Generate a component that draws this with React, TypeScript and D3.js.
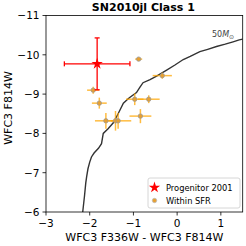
import React from "react";
import * as d3 from "d3";

const title = "SN2010jl Class 1";
const xTicks = [-3, -2, -1, 0, 1];
const yTicks = [-11, -10, -9, -8, -7, -6];

const progX = [-1.83];
const progY = [-9.77];
const progXErr = [0.75];
const progYErr = [0.66];

const sfrX = [-0.88, -1.92, -1.78, -0.97, -0.65, -0.84, -1.63, -1.41, -1.35, -0.34];
const sfrY = [-9.89, -9.1, -8.77, -8.87, -8.87, -8.44, -8.32, -8.32, -8.32, -9.47];
const sfrXErr = [0.08, 0.14, 0.17, 0.2, 0.25, 0.25, 0.25, 0.1, 0.3, 0.22];
const sfrYErr = [0.03, 0.09, 0.14, 0.15, 0.1, 0.18, 0.2, 0.25, 0.2, 0.08];

const trackX = [-2.16, -2.12, -2.09, -2.07, -2.04, -2.0, -1.96, -1.9, -1.8, -1.73, -1.69, -1.58, -1.46, -1.35, -1.23, -1.1, -0.93, -0.85, -0.78, -0.62, -0.47, -0.24, -0.05, 0.14, 0.3, 0.52, 0.7, 0.9, 1.1, 1.28, 1.42, 1.5];
const trackY = [-6.0, -6.4, -6.74, -6.9, -7.1, -7.27, -7.4, -7.5, -7.62, -7.74, -8.0, -8.12, -8.27, -8.5, -8.77, -8.9, -9.04, -9.18, -9.29, -9.37, -9.46, -9.61, -9.74, -9.88, -9.96, -10.08, -10.14, -10.21, -10.27, -10.33, -10.38, -10.4];

const W = 246, H = 246;
const L = 46, R = 242.7, T = 15.5, B = 212;

export default function App() {
  const x = d3.scaleLinear().domain([-3, 1.5]).range([L, R]);
  const y = d3.scaleLinear().domain([-11, -6]).range([T, B]);
  const line = d3.line<number>().x((d) => x(trackX[d])).y((d) => y(trackY[d]));
  const idx = trackX.map((_, i) => i);
  const font = "DejaVu Sans, sans-serif";
  const orange = "#ffa500";
  const starPath = d3.symbol(d3.symbolStar, 40)() as string;
  const starLeg = d3.symbol(d3.symbolStar, 40)() as string;
  return (
    <svg width={W} height={H} style={{ position: "absolute", left: 0, top: 0 }} fontFamily={font}>
      <rect width={W} height={H} fill="white" />
      <defs>
        <clipPath id="clip"><rect x={L} y={T} width={R - L} height={B - T} /></clipPath>
      </defs>
      <g clipPath="url(#clip)">
        <path d={line(idx) || ""} fill="none" stroke="#333" strokeWidth={1.4} />
      </g>
      {sfrX.map((v, i) => (
        <g key={"e" + i} stroke={orange} strokeOpacity={0.75} strokeWidth={1.5}>
          <line x1={x(v - sfrXErr[i])} x2={x(v + sfrXErr[i])} y1={y(sfrY[i])} y2={y(sfrY[i])} />
          <line x1={x(v)} x2={x(v)} y1={y(sfrY[i] - sfrYErr[i])} y2={y(sfrY[i] + sfrYErr[i])} />
        </g>
      ))}
      {sfrX.map((v, i) => (
        <circle key={"c" + i} cx={x(v)} cy={y(sfrY[i])} r={2.2} fill="#e8a030" stroke="#999" strokeWidth={0.8} />
      ))}
      {progX.map((v, i) => {
        const cx = x(v), cy = y(progY[i]);
        const x1 = x(v - progXErr[i]), x2 = x(v + progXErr[i]);
        const y1 = y(progY[i] - progYErr[i]), y2 = y(progY[i] + progYErr[i]);
        return (
          <g key={"p" + i} stroke="red" strokeWidth={1.3}>
            <line x1={x1} x2={x2} y1={cy} y2={cy} />
            <line x1={cx} x2={cx} y1={y1} y2={y2} />
            <line x1={x1} x2={x1} y1={cy - 2.5} y2={cy + 2.5} />
            <line x1={x2} x2={x2} y1={cy - 2.5} y2={cy + 2.5} />
            <line x1={cx - 2.5} x2={cx + 2.5} y1={y1} y2={y1} />
            <line x1={cx - 2.5} x2={cx + 2.5} y1={y2} y2={y2} />
            <path d={starPath} transform={`translate(${cx},${cy})`} fill="red" stroke="none" />
          </g>
        );
      })}
      <text x={212} y={37} fontSize={8} fill="#444">50<tspan fontStyle="italic">M</tspan><tspan fontSize={6} dy={2}>⊙</tspan></text>
      <rect x={L} y={T} width={R - L} height={B - T} fill="none" stroke="black" strokeWidth={0.8} />
      {xTicks.map((t) => (
        <g key={"xt" + t}>
          <line x1={x(t)} x2={x(t)} y1={B} y2={B + 3.5} stroke="black" strokeWidth={0.8} />
          <text x={x(t)} y={B + 15} fontSize={10.5} textAnchor="middle">{t < 0 ? "\u2212" + Math.abs(t) : t}</text>
        </g>
      ))}
      {yTicks.map((t) => (
        <g key={"yt" + t}>
          <line x1={L - 3.5} x2={L} y1={y(t)} y2={y(t)} stroke="black" strokeWidth={0.8} />
          <text x={L - 6.5} y={y(t) + 3.8} fontSize={10.5} textAnchor="end">{"\u2212" + Math.abs(t)}</text>
        </g>
      ))}
      <text x={(L + R) / 2 - 1} y={11} fontSize={11} fontWeight="bold" textAnchor="middle">{title}</text>
      <text x={(L + R) / 2} y={241} fontSize={11} textAnchor="middle">WFC3 F336W - WFC3 F814W</text>
      <text transform={`translate(11.5,108) rotate(-90)`} fontSize={11} textAnchor="middle">WFC3 F814W</text>
      <rect x={148} y={178} width={92} height={30} rx={2} fill="white" fillOpacity={0.8} stroke="#ccc" strokeWidth={0.8} />
      <path d={starLeg} transform="translate(154.5,187.5)" fill="red" />
      <text x={166} y={190.5} fontSize={8.3}>Progenitor 2001</text>
      <circle cx={154.5} cy={200.5} r={2.2} fill="#e8a030" stroke="#bbb" strokeWidth={0.8} />
      <text x={166} y={203.5} fontSize={8.3}>Within SFR</text>
    </svg>
  );
}
